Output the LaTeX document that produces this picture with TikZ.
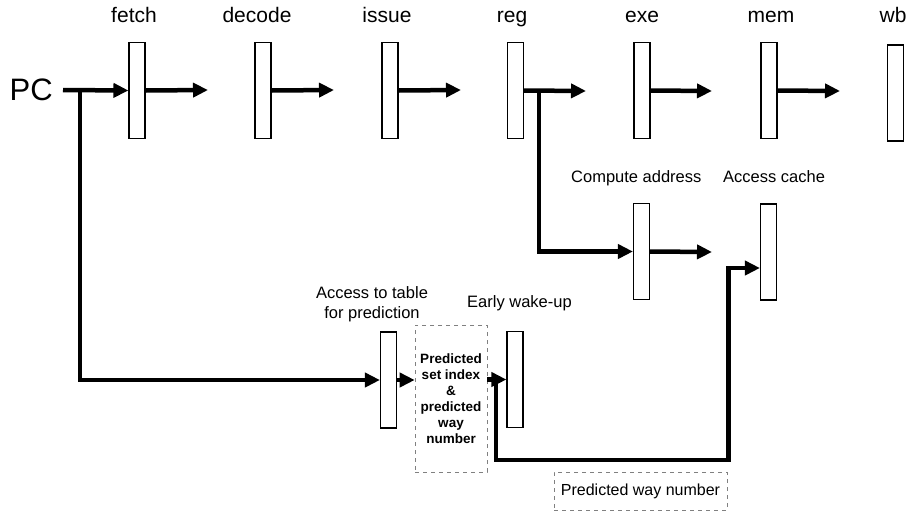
\documentclass[tikz,border=0pt]{standalone}
\usepackage{fontspec}
\setmainfont{Liberation Sans}
\usetikzlibrary{arrows.meta,calc}

\tikzset{
  latch/.style={draw, line width=1.1pt, fill=white, rectangle, inner sep=0pt,
    minimum width=16pt, minimum height=96pt},
  bus/.style={line width=4.5pt, line cap=butt, line join=miter},
  busarrow/.style={bus, -{Triangle[length=15pt,width=14pt]}},
  stagelabel/.style={font=\fontsize{21}{25}\selectfont, inner sep=0pt},
  notelabel/.style={font=\fontsize{16.5}{20}\selectfont, inner sep=0pt, align=center},
  dashbox/.style={draw=black!50, line width=0.6pt, dash pattern=on 4pt off 4pt,
    rectangle, inner sep=0pt}
}

\begin{document}
\begin{tikzpicture}[x=1pt, y=-1pt]
  \useasboundingbox (0,0) rectangle (912,512);

  % pipeline stage latches
  \node[latch] (fetch)  at (137,90.5) {};
  \node[latch] (decode) at (263,90.5) {};
  \node[latch] (issue)  at (390,90.5) {};
  \node[latch] (reg)    at (515.5,90.5) {};
  \node[latch] (exe)    at (642,90.5) {};
  \node[latch] (mem)    at (769,90.5) {};
  \node[latch] (wb)     at (895.5,93) {};

  % stage names
  \node[stagelabel, anchor=base] (lfetch)  at (134,22) {fetch};
  \node[stagelabel, anchor=base] (ldecode) at (257,22) {decode};
  \node[stagelabel, anchor=base] (lissue)  at (387,22) {issue};
  \node[stagelabel, anchor=base] (lreg)    at (512,22) {reg};
  \node[stagelabel, anchor=base] (lexe)    at (642,22) {exe};
  \node[stagelabel, anchor=base] (lmem)    at (771,22) {mem};
  \node[stagelabel, anchor=base] (lwb)     at (893,22) {wb};

  % program counter
  \node[font=\fontsize{31}{36}\selectfont, anchor=east, inner ysep=0pt, inner xsep=10pt]
    (PC) at (63,90) {PC};

  % side path latches
  \node[latch] (cmp) at (641.5,251.5) {};
  \node[latch] (acc) at (768.5,252) {};
  \node[latch] (tab) at (388.5,380) {};
  \node[latch] (ew)  at (515,379.5) {};

  % side path labels
  \node[notelabel, anchor=base west] (lcmp) at (571,182) {Compute address};
  \node[notelabel, anchor=base west] (lacc) at (723,182) {Access cache};
  \node[notelabel] (ltab) at (372,304) {Access to table\\for prediction};
  \node[notelabel, anchor=base west] (lew) at (467,307) {Early wake-up};

  % prediction result boxes
  \node[dashbox, minimum width=72pt, minimum height=147pt, align=center,
        font=\fontsize{13.5}{16}\selectfont\bfseries] (pred) at (451,398.5)
    {Predicted\\set index\\\&\\predicted\\way\\number};
  \node[dashbox, minimum width=173pt, minimum height=38pt,
        font=\fontsize{16}{20}\selectfont] (pway) at (640.5,491)
    {Predicted way number};

  % free ends and branch points
  \coordinate (fo) at (208,90);
  \coordinate (do) at (334,90);
  \coordinate (io) at (461,90);
  \coordinate (ro) at (586,91);
  \coordinate (eo) at (712,91);
  \coordinate (mo) at (840,91);
  \coordinate (co) at (712,252);
  \coordinate (pcsplit) at (80,90);
  \coordinate (regsplit) at (539,91);
  \coordinate (predsplit) at (496,379.5);
  \coordinate (riser) at (728.5,460);

  % main pipeline flow
  \draw[busarrow] (PC.east) -- (fetch.west);
  \draw[busarrow] (fetch.east) -- (fo);
  \draw[busarrow] (decode.east) -- (do);
  \draw[busarrow] (issue.east) -- (io);
  \draw[busarrow] (reg.east) -- (ro);
  \draw[busarrow] (exe.east) -- (eo);
  \draw[busarrow] (mem.east) -- (mo);

  % address computation path
  \draw[busarrow] (regsplit) |- (cmp.west);
  \draw[busarrow] (cmp.east) -- (co);

  % prediction path
  \draw[busarrow] (pcsplit) |- (tab.west);
  \draw[busarrow] (tab.east) -- (tab.east -| pred.west);
  \draw[busarrow] (pred.east |- ew.west) -- (ew.west);
  \draw[busarrow] (predsplit) |- (riser) |- ([yshift=-16pt]acc.west);
\end{tikzpicture}
\end{document}
